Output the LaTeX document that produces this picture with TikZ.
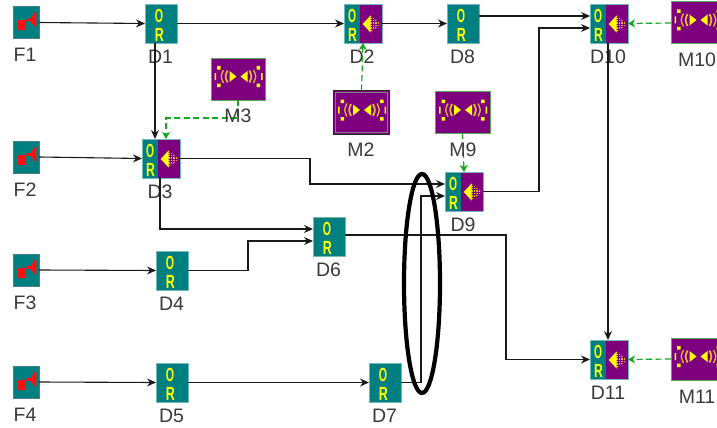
\documentclass[tikz,border=0pt]{standalone}
\usepackage{fontspec}
\setmainfont{Liberation Sans}
\usetikzlibrary{arrows.meta,calc,shapes.geometric}
\definecolor{tealbox}{HTML}{007F80}
\definecolor{purplebox}{HTML}{7F007F}
\definecolor{iconyellow}{HTML}{FFFF00}
\definecolor{archue}{HTML}{E0B838}
\definecolor{dashgreen}{HTML}{12AA20}
\definecolor{labelgray}{HTML}{3A3A3A}
\definecolor{redicon}{HTML}{FF1010}
\tikzset{
  conn/.style={draw=black!90,line width=1.1pt,-{Stealth[length=9pt,width=8pt,inset=3pt]}},
  ctrl/.style={draw=dashgreen,line width=1.2pt,dash pattern=on 6pt off 3.5pt,-{Stealth[length=7pt,width=8pt,inset=2pt]}},
  lab/.style={text=labelgray,font=\fontsize{19.5}{20}\selectfont,inner sep=0pt},
  orletter/.style={text=iconyellow,font=\fontsize{19}{19}\selectfont\bfseries,inner sep=0pt},
  srcbox/.style={draw=gray!60!tealbox,line width=1pt,fill=tealbox,minimum width=26pt,minimum height=32pt,inner sep=0pt,outer sep=0pt},
  orbox/.style={draw=tealbox!55!white,line width=.8pt,fill=tealbox,minimum width=32pt,minimum height=39pt,inner sep=0pt,outer sep=0pt},
  dualbox/.style={draw=tealbox!55!white,line width=.8pt,minimum width=38pt,minimum height=39pt,inner sep=0pt,outer sep=0pt,
    path picture={\fill[tealbox] (path picture bounding box.south west) rectangle ++(16pt,39pt);
                  \fill[purplebox] ([xshift=16pt]path picture bounding box.south west) rectangle (path picture bounding box.north east);}},
  modbox/.style={draw=green!35!gray,line width=1pt,fill=purplebox,inner sep=0pt,outer sep=0pt},
}
% name, centre y, unused
\newcommand\SrcUnit[3]{%
  \node[srcbox] (#1) at (26,#2) {};
  \fill[redicon] ($(#1)+(-8.7,-2.2)$) rectangle ($(#1)+(-1.3,7.8)$);
  \fill[redicon] ($(#1)+(.3,-3.8)$) -- ($(#1)+(4.7,-3.8)$) -- ($(#1)+(9,-10.5)$) -- ($(#1)+(10.3,-10.5)$) -- ($(#1)+(10.3,4.5)$) -- ($(#1)+(8,3.5)$) -- ($(#1)+(4.7,-1.2)$) -- ($(#1)+(.3,-1.2)$) -- cycle;
  \node[lab] (l#1) at (25,#2+32.5) {#1};}
\newcommand\OrUnit[3]{%
  \node[orbox] (#1) at (#2+16,#3+19.5) {};
  \node[orletter] (o#1) at (#2+14,#3+11.5) {\scalebox{.56}[1]{O}};
  \node[orletter] (r#1) at (#2+14.5,#3+30.5) {\scalebox{.66}[1]{R}};
  \node[lab] (l#1) at (#2+15.5,#3+53) {#1};}
\newcommand\DualUnit[3]{%
  \node[dualbox] (#1) at (#2+19,#3+19.5) {};
  \node[orletter] (o#1) at (#2+8,#3+11.5) {\scalebox{.54}[1]{O}};
  \node[orletter] (r#1) at (#2+8.5,#3+30.5) {\scalebox{.64}[1]{R}};
  \begin{scope}
    \clip (#2+26,#3+11.5) -- (#2+37,#3+20) -- (#2+26,#3+28.5) -- cycle;
    \fill[archue] (#2+26,#3+11) rectangle (#2+37,#3+29);
    \foreach \hx in {28,30.4,32.8,35.2} {\draw[purplebox,line width=.45pt] (#2+\hx,#3+10) -- (#2+\hx,#3+30);}
    \foreach \hy in {12.8,15.2,17.6,20,22.4,24.8,27.2} {\draw[purplebox,line width=.45pt] (#2+26,#3+\hy) -- (#2+37,#3+\hy);}
  \end{scope}
  \fill[iconyellow] (#2+18.7,#3+20) -- (#2+26.5,#3+11.5) -- (#2+26.5,#3+28.5) -- cycle;
  \node[lab] (l#1) at (#2+18,#3+53) {#1};}
% centre x, centre y of the speaker pair
\newcommand\ModIcon[2]{%
  \begin{scope}[shift={(#1,#2)}]
    \fill[iconyellow] (-2,0) -- (-9,-5.5) -- (-9,5.5) -- cycle;
    \fill[iconyellow] (2,0) -- (9,-5.5) -- (9,5.5) -- cycle;
    \draw[archue,line width=1.8pt] (-11,-6) .. controls (-13.5,0) .. (-11,6);
    \draw[archue,line width=1.8pt] (11,-6) .. controls (13.5,0) .. (11,6);
    \draw[archue,line width=1.3pt] (-15,-6.5) .. controls (-18,0) .. (-15,6.5);
    \draw[archue,line width=1.3pt] (15,-6.5) .. controls (18,0) .. (15,6.5);
    \fill[iconyellow] (-21.5,-10.5) rectangle (-18,-7) (18,-10.5) rectangle (21.5,-7) (-21.5,7) rectangle (-18,10.5) (18,7) rectangle (21.5,10.5);
    \fill[iconyellow] (-24,-3.5) rectangle (-22.5,3.5) (22.5,-3.5) rectangle (24,3.5);
  \end{scope}}
\begin{document}
\begin{tikzpicture}[x=1pt,y=-1pt]
\useasboundingbox (0,0) rectangle (717,428);
\clip (0,0) rectangle (717,428);
\fill[white] (0,0) rectangle (717,428);

\SrcUnit{F1}{22.5}{}
\SrcUnit{F2}{157}{}
\SrcUnit{F3}{270}{}
\SrcUnit{F4}{382}{}

\OrUnit{D1}{145}{4}
\DualUnit{D2}{344}{4}
\OrUnit{D8}{447}{4}
\DualUnit{D10}{590}{4}
\DualUnit{D3}{142}{139}
\DualUnit{D9}{445}{172}
\OrUnit{D6}{313}{217}
\OrUnit{D4}{156}{251}
\OrUnit{D5}{156}{363}
\OrUnit{D7}{369}{363}
\DualUnit{D11}{590}{340}

\node[modbox,minimum width=54pt,minimum height=41pt] (M3) at (238,79.5) {};
\ModIcon{238.5}{76.5}
\node[modbox,draw=black!85,line width=1.6pt,minimum width=56pt,minimum height=44pt] (M2) at (361.5,112.5) {};
\draw[gray,line width=1.2pt] (335.5,92.5) rectangle (387.5,132.5);
\ModIcon{362}{110}
\node[modbox,minimum width=55pt,minimum height=42pt] (M9) at (462.5,112) {};
\ModIcon{463}{110}
\node[modbox,minimum width=60pt,minimum height=42pt] (M10) at (701,23) {};
\ModIcon{698.5}{20}
\node[modbox,minimum width=60pt,minimum height=42pt] (M11) at (701,359) {};
\ModIcon{698.5}{356.5}

% black connectors
\draw[conn] (F1.east) -- (D1.west);
\draw[conn] (D1.east) -- (D2.west);
\draw[conn] (D2.east) -- (D8.west);
\draw[conn] ([yshift=7.5pt]D8.east) -- ([yshift=7.5pt]D10.west);
\draw[conn] (D9.east) -- ++(56,0) |- ([yshift=-4.5pt]D10.west);
\draw[conn] ([xshift=-6pt]D1.south) -- ([xshift=-6pt]D3.north);
\draw[conn] (F2.east) -- (D3.west);
\draw[conn] (D3.east) -- ++(130,0) |- ([yshift=7.5pt]D9.west);
\draw[conn] ([xshift=-1pt]D3.south) |- ([yshift=7.5pt]D6.west);
\draw[conn] (F3.east) -- (D4.west);
\draw[conn] (D4.east) -- ++(60,0) |- ([yshift=-4.5pt]D6.west);
\draw[conn] ([yshift=1.5pt]D6.east) -- ++(161,0) |- (D11.west);
\draw[conn] (F4.east) -- (D5.west);
\draw[conn] (D5.east) -- (D7.west);
\draw[conn] (D7.east) -- ++(20,0) |- ([yshift=-4.5pt]D9.west);
\draw[conn] ([xshift=-1pt]D10.south) -- ([xshift=-1pt]D11.north);

% dashed control connectors
\draw[ctrl] (M3.south) -- ++(0,18) -| ([xshift=5pt]D3.north);
\draw[ctrl] (M2.north) -- (D2.south);
\draw[ctrl] (M9.south) -- (D9.north);
\draw[ctrl] (M10.west) -- (D10.east);
\draw[ctrl] (M11.west) -- (D11.east);

% module labels
\node[lab] (lM3) at (238,116) {M3};
\node[lab] (lM2) at (361,150) {M2};
\node[lab] (lM9) at (463,150) {M9};
\node[lab] (lM10) at (697,60) {M10};
\node[lab] (lM11) at (697,397) {M11};

% ellipse
\node[draw=black,line width=4.2pt,ellipse,minimum width=36pt,minimum height=219pt,inner sep=0pt] (ring) at (422,283.5) {};
\end{tikzpicture}
\end{document}
